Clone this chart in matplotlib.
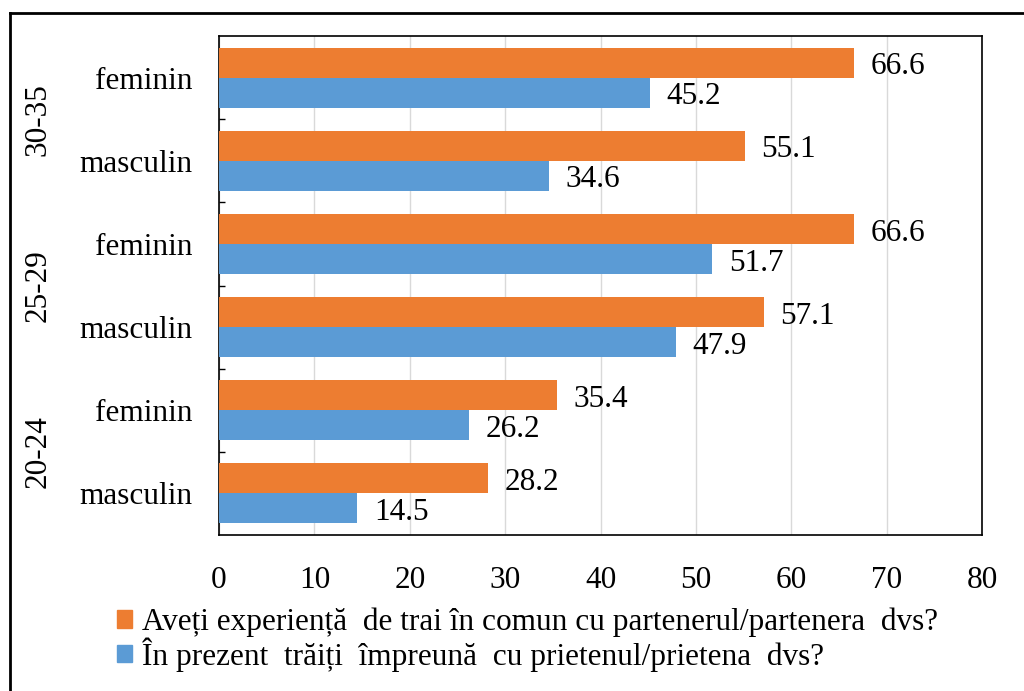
import matplotlib.pyplot as plt
from matplotlib.patches import Patch
from matplotlib.lines import Line2D
from matplotlib.transforms import blended_transform_factory

plt.rcParams['font.family'] = ['Liberation Serif', 'DejaVu Serif']

# -----------------------------
# Data (bottom to top)
# -----------------------------
categories = ["masculin", "feminin", "masculin", "feminin", "masculin", "feminin"]
age_groups = ["20-24", "25-29", "30-35"]
experienta = [28.2, 35.4, 57.1, 66.6, 55.1, 66.6]
prezent = [14.5, 26.2, 47.9, 51.7, 34.6, 45.2]
series_names = [
    "Aveți experiență  de trai în comun cu partenerul/partenera  dvs?",
    "În prezent  trăiți  împreună  cu prietenul/prietena  dvs?",
]
orange = "#ED7D31"
blue = "#5B9BD5"
fs = 22.5

fig = plt.figure(figsize=(10.24, 6.91), dpi=100)
ax = fig.add_axes([219 / 1024, 1 - 535 / 691, (982 - 219) / 1024, (535 - 36) / 691])

ypos = list(range(len(categories)))
h = 0.36
ax.barh([y + h / 2 for y in ypos], experienta, height=h, color=orange, zorder=3)
ax.barh([y - h / 2 for y in ypos], prezent, height=h, color=blue, zorder=3)

# value labels
for y, v in zip(ypos, experienta):
    ax.annotate(f"{v:.1f}", (v, y + h / 2), xytext=(12, -3), textcoords="offset points",
                va="center", ha="left", fontsize=fs)
for y, v in zip(ypos, prezent):
    ax.annotate(f"{v:.1f}", (v, y - h / 2), xytext=(12, -3), textcoords="offset points",
                va="center", ha="left", fontsize=fs)

ax.set_xlim(0, 80)
ax.set_ylim(-0.5, len(categories) - 0.5)
ax.set_xticks(range(0, 81, 10))
ax.set_yticks(ypos)
ax.set_yticklabels(categories)
ax.set_yticks([y + 0.5 for y in ypos[:-1]], minor=True)
ax.tick_params(axis="x", length=0, pad=22, labelsize=fs)
ax.tick_params(axis="y", which="major", length=0, pad=19, labelsize=fs)
ax.tick_params(axis="y", which="minor", length=4, direction="in", width=1)
ax.grid(axis="x", color="#d9d9d9", linewidth=1, zorder=0)
for s in ax.spines.values():
    s.set_color("black")
    s.set_linewidth(1.2)

# age group labels
trans = blended_transform_factory(fig.transFigure, ax.transData)
for i, g in enumerate(age_groups):
    ax.text(38 / 1024, 2 * i + 0.5, g, rotation=90, transform=trans,
            ha="center", va="center", fontsize=fs)

# legend
handles = [Patch(color=orange), Patch(color=blue)]
fig.legend(handles, series_names, loc="upper left", bbox_to_anchor=(104 / 1024, 1 - 595 / 691),
           frameon=False, fontsize=fs, handlelength=0.5, handleheight=0.5,
           handletextpad=0.3, labelspacing=0.0, borderaxespad=0)

# outer border (left and top only visible)
fig.add_artist(Line2D([10 / 1024, 10 / 1024], [0, 1 - 13 / 691], color="black", linewidth=2,
                      transform=fig.transFigure))
fig.add_artist(Line2D([10 / 1024, 1], [1 - 13 / 691, 1 - 13 / 691], color="black", linewidth=2,
                      transform=fig.transFigure))

plt.savefig("out.png", dpi=100)
